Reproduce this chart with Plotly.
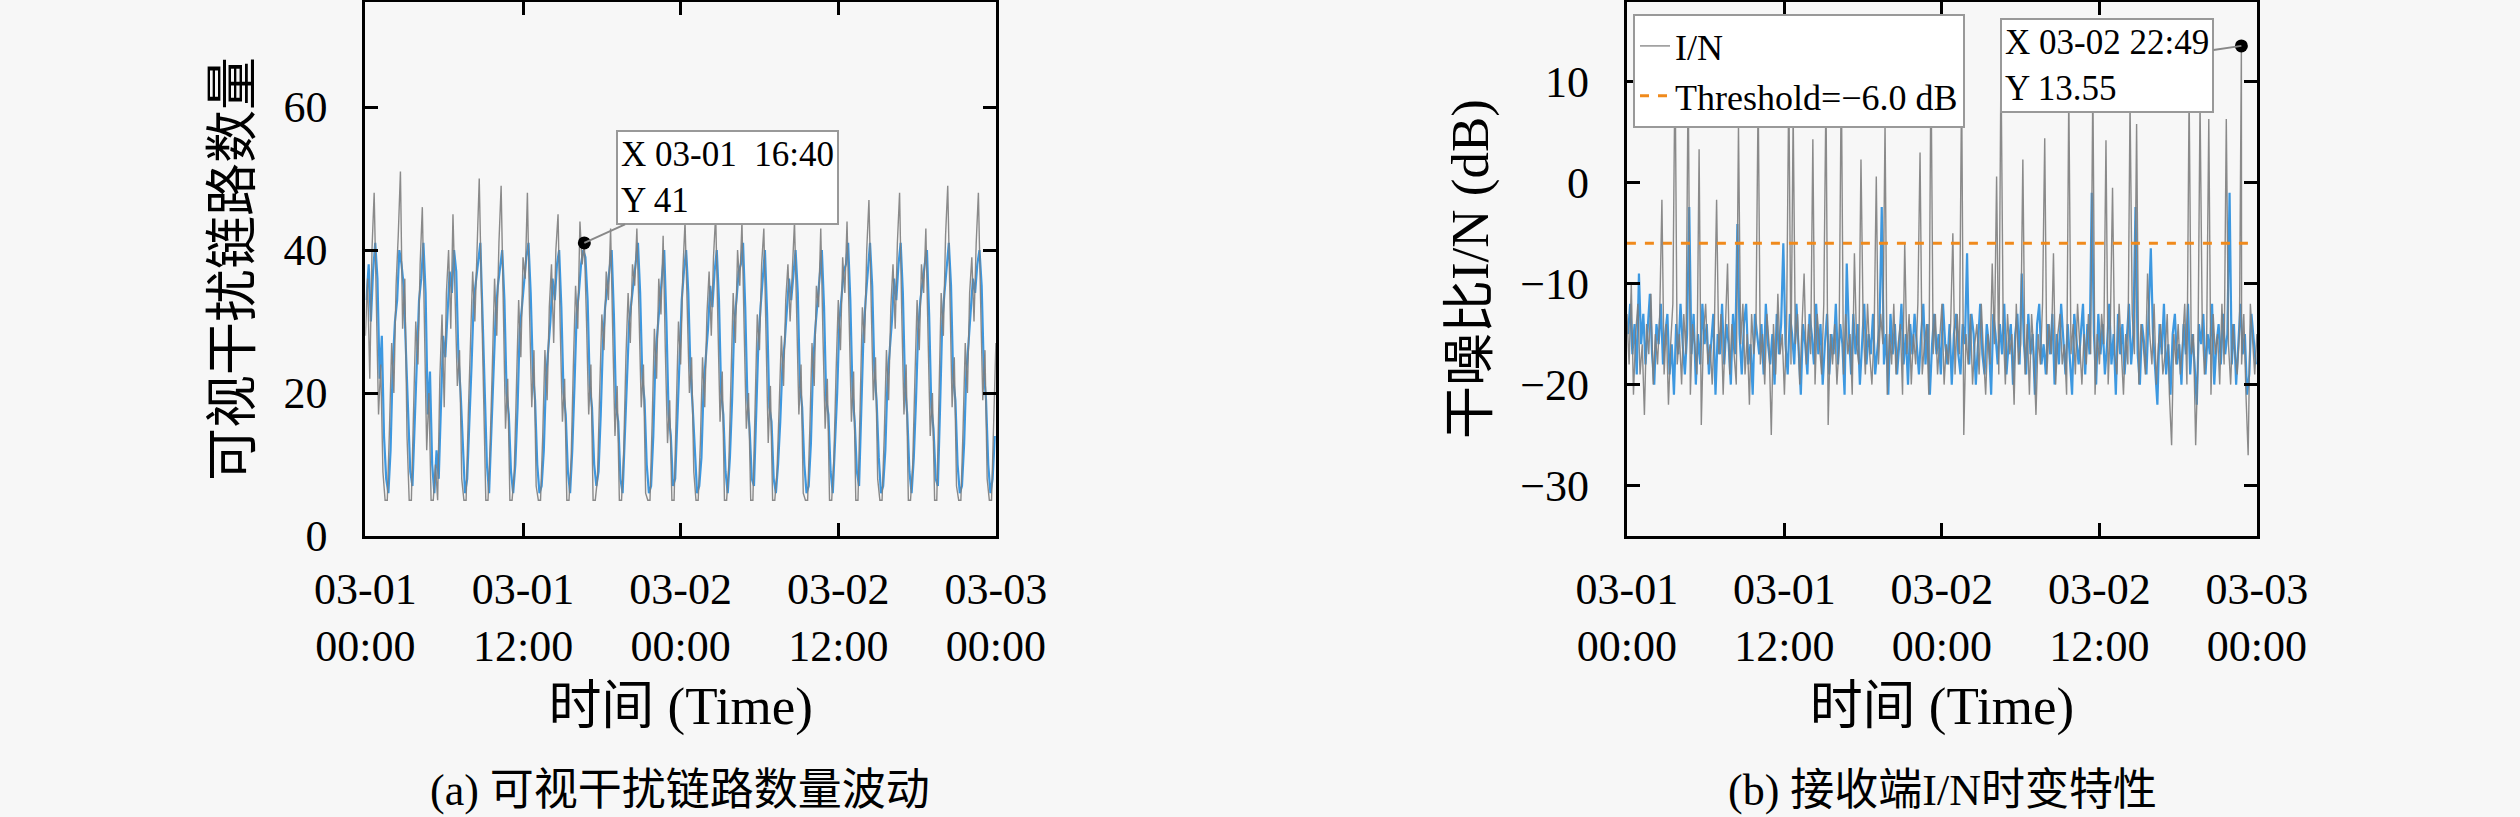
import pandas as pd
import plotly.graph_objects as go

FONT = "Liberation Serif, Noto Sans CJK SC, serif"
BG = "#f7f7f7"

# --- (a) visible interference links, 10 min grid ---
link_start = "2024-03-01 00:00"
link_counts = [
    28, 36, 22, 40, 48, 31, 17, 24, 9, 5, 5, 15, 27, 20, 35, 42, 51, 29, 36, 14,
    5, 5, 19, 30, 24, 38, 46, 27, 12, 20, 5, 5, 10, 5, 22, 31, 18, 34, 40, 29,
    45, 33, 21, 26, 8, 5, 5, 17, 28, 37, 30, 42, 50, 34, 19, 5, 5, 13, 24, 36,
    28, 41, 49, 30, 15, 22, 5, 5, 9, 21, 33, 25, 39, 36, 48, 31, 18, 26, 7, 5,
    5, 14, 26, 19, 32, 38, 27, 40, 45, 29, 16, 22, 5, 5, 11, 24, 35, 29, 44, 38,
    41, 30, 17, 24, 5, 5, 8, 20, 31, 26, 37, 33, 43, 28, 14, 21, 5, 5, 12, 25,
    34, 27, 38, 35, 43, 31, 18, 24, 6, 5, 5, 16, 29, 22, 36, 31, 42, 26, 13, 19,
    5, 5, 18, 30, 24, 37, 44, 32, 20, 25, 9, 5, 5, 13, 25, 18, 31, 37, 28, 39,
    45, 30, 16, 23, 5, 5, 10, 22, 34, 27, 40, 35, 44, 29, 15, 20, 5, 5, 19, 31,
    26, 38, 43, 27, 13, 21, 5, 5, 9, 18, 28, 21, 33, 38, 30, 37, 44, 31, 17, 24,
    6, 5, 5, 15, 27, 21, 35, 32, 43, 28, 15, 22, 5, 5, 11, 23, 33, 26, 39, 34,
    44, 30, 16, 23, 5, 5, 20, 32, 27, 40, 47, 33, 19, 25, 8, 5, 5, 14, 26, 19,
    32, 38, 29, 41, 48, 31, 17, 24, 5, 5, 10, 22, 33, 26, 38, 34, 43, 28, 14, 20,
    5, 5, 21, 34, 28, 42, 49, 32, 18, 25, 7, 5, 5, 15, 27, 20, 34, 39, 30, 41,
    48, 33, 19, 26, 8, 5, 5, 16, 27,
]
# second (blue) series, offset by 5 min
link_blue_start = "2024-03-01 00:05"
link_blue = [
    33, 38, 30, 37, 41, 36, 22, 28, 14, 8, 6, 12, 24, 30, 33, 40, 38, 35, 26, 18,
    9, 7, 16, 27, 33, 36, 41, 34, 17, 23, 10, 6, 12, 8, 19, 28, 25, 31, 37, 34,
    40, 37, 25, 20, 12, 6, 8, 15, 24, 33, 36, 39, 41, 31, 22, 10, 6, 14, 22, 31,
    35, 38, 40, 33, 20, 17, 9, 6, 10, 18, 29, 32, 36, 39, 41, 34, 23, 19, 10, 6,
    7, 12, 22, 26, 30, 36, 33, 38, 40, 32, 20, 17, 9, 6, 12, 21, 31, 34, 38, 40,
    39, 33, 21, 18, 10, 7, 9, 17, 27, 32, 35, 38, 40, 31, 18, 16, 8, 6, 13, 22,
    30, 33, 36, 39, 41, 34, 22, 19, 10, 6, 7, 14, 25, 29, 33, 37, 40, 30, 17, 14,
    7, 8, 17, 27, 33, 37, 40, 34, 23, 18, 11, 6, 7, 11, 21, 25, 29, 35, 32, 37,
    40, 33, 20, 17, 9, 6, 11, 19, 30, 33, 37, 38, 41, 32, 19, 15, 8, 7, 16, 27,
    32, 36, 40, 31, 18, 16, 8, 6, 10, 16, 24, 27, 31, 36, 33, 37, 40, 34, 21, 18,
    10, 6, 7, 13, 24, 29, 33, 36, 40, 32, 19, 17, 9, 6, 12, 20, 30, 33, 37, 38,
    41, 33, 20, 16, 9, 7, 17, 28, 33, 37, 41, 35, 23, 19, 11, 6, 7, 12, 22, 26,
    30, 36, 33, 38, 41, 34, 21, 17, 9, 6, 11, 19, 29, 33, 36, 38, 40, 31, 18, 15,
    8, 7, 18, 30, 34, 38, 41, 35, 22, 19, 10, 6, 7, 13, 23, 27, 31, 36, 34, 38,
    40, 35, 23, 19, 10, 6, 8, 14,
]
link_mark_time = "2024-03-01 16:40"
link_mark_val = 41

# --- (b) receiver I/N (dB), 10 min grid ---
in_start = "2024-03-01 00:00"
in_db = [
    -13, -18, -10, -21, -15, -12, -19, -16, -23, -14, -17, -11,
    -20, -15, -18, -13, -1.7, -19, -14, -22, -16, -12, 12, -18,
    -15, -20, -13, -17, 11, -21, -14, -16, -19, 3.3, -24, -15,
    -12, -18, -16, -20, -14, -1.7, -17, -13, -21, -15, -8, -19,
    -14, -17, -20, 5.7, -16, -12, -19, -15, -22, -13, -17, -14,
    9, -18, -15, -20, -13, -16, -25, -14, -19, -11, -17, -15,
    -21, -14, 10, -18, 7, -16, -13, -20, -15, -9, -18, -14,
    -17, 4.3, -20, -13, -16, -19, -12, 9, -24, -15, -18, -14,
    -20, -16, 11, -19, -13, -17, -15, -21, -7, -16, -18, 2.3,
    -14, -19, -12, -17, -20, -15, 0.6, -18, -13, -16, 5.9, -21,
    -15, -18, -12, -19, -16, -14, -21, -6, -17, -13, -20, -15,
    -18, -12, 3, -19, -16, -14, -21, 12, -17, -13, -19, -15,
    -12, -20, -16, -18, -14, -5, -19, -13, -17, 10, -25, -15,
    -18, -13, -20, -16, -14, -19, -12, -17, -21, -15, -18, -8,
    -16, 0.6, -19, 12, -14, -20, -13, -17, -15, -22, -12, -18,
    -16, 2.3, -19, -14, -21, -13, -17, -23, -15, -18, -12, 4.4,
    -19, -14, -17, -7, -20, -15, -13, -18, -16, -21, 9, -17,
    -14, -19, -12, -16, -20, -15, -18, -13, -17, 10, -21, -15,
    -18, -13, -16, 4.2, -20, -14, -0.5, -17, -19, -12, -16, -21,
    -15, -18, 8, -13, -17, 5.8, -20, -14, -16, -19, -9, -15,
    -18, -12, -20, -16, -14, -19, -17, -13, -21, -26, -15, -18,
    -14, -19, -16, -12, -20, 9, -17, -15, -26, -18, 8, -14,
    -19, -16, 6.3, -21, -13, -17, -15, -20, -12, -18, 6.3, -16,
    -20, -14, -17, -19, -15, -18, -13, -21, -27, -12, -16, -19,
    -15,
]
in_peak_time = "2024-03-02 22:49"
in_peak_val = 13.55
in_blue_start = "2024-03-01 00:05"
in_blue = [
    -15, -12, -17, -14, -19, -9, -16, -13, -18, -15, -11, -17,
    -20, -14, -16, -12, -18, -15, -13, -19, -16, -21, -14, -17,
    -12, -16, -19, -15, -2.4, -17, -13, -20, -15, -18, -12, -16,
    -14, -19, -16, -13, -21, -15, -17, -12, -18, -14, -16, -20,
    -13, -17, -4.1, -15, -19, -14, -12, -18, -16, -21, -13, -15,
    -17, -14, -19, -12, -16, -18, -15, -20, -13, -17, -14, -6,
    -16, -19, -13, -15, -18, -12, -17, -21, -14, -16, -19, -13,
    -15, -18, -12, -17, -14, -20, -16, -13, -19, -15, -17, -12,
    -18, -14, -16, -21, -8, -15, -19, -13, -17, -14, -20, -16,
    -12, -18, -15, -17, -13, -19, -16, -14, -2.4, -18, -15, -21,
    -13, -17, -14, -19, -16, -12, -18, -15, -20, -14, -17, -13,
    -16, -19, -15, -12, -18, -14, -21, -16, -13, -17, -15, -19,
    -12, -16, -18, -14, -20, -15, -13, -17, -19, -14, -16, -7,
    -18, -13, -15, -20, -16, -12, -17, -19, -14, -16, -21, -13,
    -15, -18, -14, -17, -12, -19, -16, -14, -20, -15, -13, -18,
    -9, -16, -19, -13, -17, -15, -21, -14, -12, -18, -16, -19,
    -14, -17, -13, -20, -15, -18, -12, -16, -19, -14, -17, -21,
    -13, -16, -18, -15, -12, -19, -14, -17, -1, -15, -20, -13,
    -17, -14, -19, -16, -12, -18, -15, -21, -13, -17, -14, -19,
    -16, -12, -18, -15, -2.4, -17, -20, -14, -16, -19, -13, -6.5,
    -15, -18, -22, -14, -17, -12, -19, -16, -21, -15, -13, -18,
    -16, -20, -14, -17, -12, -19, -15, -18, -22, -14, -16, -13,
    -19, -15, -17, -12, -20, -16, -14, -18, -13, -17, -15, -1,
    -18, -14, -20, -16, -12, -17, -15, -21, -19, -13, -16, -18,
]
threshold_db = -6.0

t_range = ["2024-03-01 00:00", "2024-03-03 00:00"]

link_t = pd.date_range(link_start, periods=len(link_counts), freq="10min")
link_bt = pd.date_range(link_blue_start, periods=len(link_blue), freq="10min")
in_grid = pd.date_range(in_start, periods=len(in_db), freq="10min")
in_bt = pd.date_range(in_blue_start, periods=len(in_blue), freq="10min")

# put the recorded peak sample into the I/N series
peak_ts = pd.Timestamp(in_peak_time)
k = int((in_grid <= peak_ts).sum())
in_t = list(in_grid[:k]) + [peak_ts] + list(in_grid[k:])
in_v = in_db[:k] + [in_peak_val] + in_db[k:]

GRAY = "rgba(125,125,125,0.9)"
BLUE = "#3d98e0"

fig = go.Figure()

fig.add_trace(go.Scatter(x=link_bt, y=link_blue, mode="lines", line=dict(color=BLUE, width=2.2),
                         showlegend=False, xaxis="x", yaxis="y"))
fig.add_trace(go.Scatter(x=link_t, y=link_counts, mode="lines", line=dict(color=GRAY, width=1.4),
                         showlegend=False, xaxis="x", yaxis="y"))
fig.add_trace(go.Scatter(x=[link_mark_time], y=[link_mark_val], mode="markers",
                         marker=dict(color="black", size=13), showlegend=False, xaxis="x", yaxis="y"))

fig.add_trace(go.Scatter(x=in_bt, y=in_blue, mode="lines", line=dict(color=BLUE, width=2.2),
                         showlegend=False, xaxis="x2", yaxis="y2"))
fig.add_trace(go.Scatter(x=in_t, y=in_v, mode="lines", line=dict(color=GRAY, width=1.4),
                         name="I/N", xaxis="x2", yaxis="y2"))
fig.add_trace(go.Scatter(x=t_range, y=[threshold_db, threshold_db], mode="lines",
                         line=dict(color="#f08a1c", width=3, dash="dash"),
                         name=f"Threshold=\u2212{abs(threshold_db):.1f} dB", xaxis="x2", yaxis="y2"))
fig.add_trace(go.Scatter(x=[in_peak_time], y=[in_peak_val], mode="markers",
                         marker=dict(color="black", size=13), showlegend=False, xaxis="x2", yaxis="y2"))

axis_style = dict(
    showline=True, linewidth=3, linecolor="black", mirror="ticks",
    ticks="inside", ticklen=13, tickwidth=2.5, tickcolor="black",
    showgrid=False, zeroline=False, automargin=False,
)
x_style = dict(
    axis_style, type="date", range=t_range, tickmode="linear", tick0=t_range[0],
    dtick=12 * 3600 * 1000, tickformat="%m-%d<br>%H:%M", ticklabelstandoff=12,
    title=dict(text="时间 (Time)", standoff=17),
)

box = dict(showarrow=True, arrowhead=0, arrowwidth=2, arrowcolor="#888888", align="left",
           bgcolor="white", bordercolor="#999999", borderwidth=2, borderpad=3,
           font=dict(size=35))

fig.update_layout(
    width=2520, height=817,
    margin=dict(l=0, r=0, t=0, b=0, autoexpand=False),
    paper_bgcolor=BG, plot_bgcolor=BG,
    font=dict(family=FONT, size=44, color="black"),
    xaxis=dict(x_style, domain=[0.1450, 0.3952], anchor="y"),
    yaxis=dict(axis_style, domain=[0.3439, 0.9976], anchor="x", range=[0, 74.7],
               tick0=0, dtick=20, ticklabelstandoff=26,
               title=dict(text="可视干扰链路数量", standoff=16)),
    xaxis2=dict(x_style, domain=[0.6456, 0.8956], anchor="y2"),
    yaxis2=dict(axis_style, domain=[0.3439, 0.9976], anchor="x2", range=[-35, 17.9],
                tick0=0, dtick=10, ticklabelstandoff=26,
                title=dict(text="干噪比I/N (dB)", standoff=15)),
    legend=dict(x=1633 / 2520, y=1 - 14 / 817, xanchor="left", yanchor="top",
                bgcolor="white", bordercolor="#999999", borderwidth=2,
                font=dict(size=36), traceorder="normal", tracegroupgap=0),
    annotations=[
        dict(box, x=link_mark_time, y=link_mark_val, xref="x", yref="y",
             text=f"X 03-01\u00a0 16:40<br>Y {link_mark_val}", ax=143, ay=-65),
        dict(box, x=in_peak_time, y=in_peak_val, xref="x2", yref="y2",
             text=f"X 03-02 22:49<br>Y {in_peak_val}", ax=-134, ay=20),
        dict(x=680 / 2520, y=1 - 790 / 817, xref="paper", yref="paper",
             xanchor="center", yanchor="middle",
             text="(a) 可视干扰链路数量波动", showarrow=False, font=dict(size=44)),
        dict(x=1942 / 2520, y=1 - 790 / 817, xref="paper", yref="paper",
             xanchor="center", yanchor="middle",
             text="(b) 接收端I/N时变特性", showarrow=False, font=dict(size=44)),
    ],
)

fig.write_html("out.html", config={"displayModeBar": False},
               post_script="document.body.style.margin = '0';")
